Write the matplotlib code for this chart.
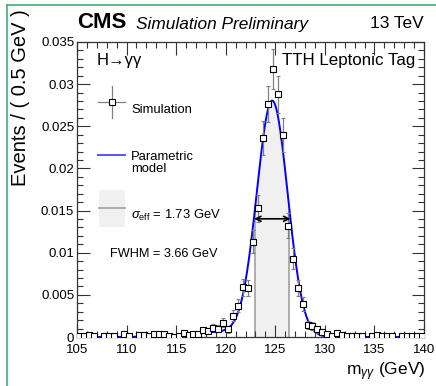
import numpy as np
import matplotlib.pyplot as plt
from matplotlib.lines import Line2D
from matplotlib.patches import Rectangle
from matplotlib.ticker import MultipleLocator

plt.rcParams['font.family'] = ['Liberation Sans', 'DejaVu Sans']
plt.rcParams['mathtext.fontset'] = 'custom'
plt.rcParams['mathtext.rm'] = 'Liberation Sans'
plt.rcParams['mathtext.it'] = 'Liberation Sans:italic'

W, H = 436, 386

# binned simulation, 0.5 GeV bins from 105 to 140 (nan = empty bin)
bin_lo, bin_hi, bin_w = 105.0, 140.0, 0.5
events = [0.0001, 0.0001, 0.0002, 0.0001, np.nan, 0.0001, 0.0001, 0.0001, np.nan, 0.0004,
          0.0001, np.nan, 0.0002, 0.0002, 0.0001, 0.0003, 0.0003, 0.0003, 0.0001, 0.00005,
          0.0001, 0.0005, 0.0002, 0.0003, 0.0003, 0.0008, 0.0007, 0.0011, 0.0010, 0.0017,
          0.0009, 0.0025, 0.0037, 0.0059, 0.0058, 0.0113, 0.0153, 0.0236, 0.0276, 0.0318,
          0.0288, 0.0240, 0.0132, 0.0093, 0.0058, 0.0039, 0.0014, 0.0013, 0.0009, 0.0006,
          0.0004, 0.0001, 0.0005, 0.0002, 0.0001, 0.0001, 0.0001, 0.0001, np.nan, 0.0001,
          0.0002, 0.0001, 0.0001, 0.0001, np.nan, 0.0001, 0.0001, 0.0001, 0.0001, 0.0001]
errors = [0.00013, 0.00013, 0.00018, 0.00013, 0.0, 0.00013, 0.00013, 0.00013, 0.0, 0.00026,
          0.00013, 0.0, 0.00018, 0.00018, 0.00013, 0.00022, 0.00022, 0.00022, 0.00013, 0.00009,
          0.00013, 0.00029, 0.00018, 0.00022, 0.00022, 0.00036, 0.00034, 0.00043, 0.00041, 0.00053,
          0.00039, 0.00065, 0.00078, 0.00099, 0.00098, 0.00137, 0.00160, 0.00198, 0.00214, 0.00240,
          0.00219, 0.00200, 0.00148, 0.00124, 0.00098, 0.00080, 0.00048, 0.00047, 0.00039, 0.00032,
          0.00026, 0.00013, 0.00029, 0.00018, 0.00013, 0.00013, 0.00013, 0.00013, 0.0, 0.00013,
          0.00018, 0.00013, 0.00013, 0.00013, 0.0, 0.00013, 0.00013, 0.00013, 0.00013, 0.00013]

# parametric signal model: gaussian core + low-mass tail
m_peak = 124.70
fwhm = 3.66
sigma_eff = 1.73
core_amp, core_sigma = 0.0278, 1.554
tail_amp, tail_mean, tail_sigma = 0.0006, 120.0, 3.5

centers = np.arange(bin_lo + bin_w / 2, bin_hi, bin_w)
x = np.linspace(bin_lo, bin_hi, 1400)
model = (core_amp * np.exp(-0.5 * ((x - m_peak) / core_sigma) ** 2)
         + tail_amp * np.exp(-0.5 * ((x - tail_mean) / tail_sigma) ** 2))
peak = model.max()

fig = plt.figure(figsize=(W / 100, H / 100), dpi=100)
ax = fig.add_axes([77 / W, 1 - 337 / H, (424 - 77) / W, (337 - 42) / H])

# sigma_eff band under the model curve
lo, hi = m_peak - sigma_eff, m_peak + sigma_eff
inband = (x >= lo) & (x <= hi)
ax.fill_between(x[inband], 0, model[inband], color='#f0f0f0', lw=0, zorder=0)
for edge in (lo, hi):
    top = np.interp(edge, x, model)
    ax.plot([edge, edge], [0, top], color='#a0a0a0', lw=1.2, zorder=1)

ax.plot(x, model, color='#0000ff', lw=1.4, zorder=3)

ax.errorbar(centers, events, yerr=errors, fmt='s', color='#808080', ecolor='#808080',
            elinewidth=0.9, capsize=1.2, capthick=0.8, markersize=4.6,
            markerfacecolor='white', markeredgecolor='black', markeredgewidth=0.8, zorder=4)

# FWHM arrow at half maximum
ax.annotate('', xy=(m_peak - fwhm / 2, peak / 2), xytext=(m_peak + fwhm / 2, peak / 2),
            arrowprops=dict(arrowstyle='<->', color='black', lw=1.2,
                            shrinkA=0, shrinkB=0, mutation_scale=9), zorder=5)

ax.set_xlim(bin_lo, bin_hi)
ax.set_ylim(0, 0.035)
ax.xaxis.set_major_locator(MultipleLocator(5))
ax.xaxis.set_minor_locator(MultipleLocator(1))
ax.yaxis.set_minor_locator(MultipleLocator(0.001))
ax.set_yticks(np.arange(0, 0.0351, 0.005))
ax.set_yticklabels(['0', '0.005', '0.01', '0.015', '0.02', '0.025', '0.03', '0.035'])
ax.tick_params(which='both', direction='in', top=True, right=True, labelsize=9.5,
               color='#333333', width=0.8)
ax.tick_params(which='major', length=9, pad=2)
ax.tick_params(which='minor', length=4.5)
ax.tick_params(axis='x', which='major', pad=5)
for sp in ax.spines.values():
    sp.set_color('#333333')
    sp.set_linewidth(0.9)

def fx(px):
    return px / W

def fy(py):
    return 1 - py / H

fig.text(fx(425), fy(372), r'm$_{\gamma\gamma}$ (GeV)', ha='right', va='center', fontsize=12.5)
fig.text(fx(20), fy(9), 'Events / ( 0.5 GeV )', rotation=90, ha='center', va='top', fontsize=14.5)

fig.text(fx(77), fy(23), 'CMS', fontsize=16, fontweight='bold', ha='left', va='center')
fig.text(fx(136), fy(24), 'Simulation Preliminary', fontsize=12.4, style='italic', ha='left', va='center')
fig.text(fx(424), fy(24), '13 TeV', fontsize=12.4, ha='right', va='center')

fig.text(fx(97), fy(61), 'H\u2192\u03b3\u03b3', fontsize=12, ha='left', va='center')
fig.text(fx(415), fy(61), 'TTH Leptonic Tag', fontsize=12.2, ha='right', va='center')
fig.text(fx(110), fy(254), 'FWHM = %.2f GeV' % fwhm, fontsize=9.2, ha='left', va='center')

# legend entries
leg_x0, leg_x1, leg_xm = fx(98), fx(125), fx(112)
fig.add_artist(Line2D([leg_xm, leg_xm], [fy(86), fy(118)], color='#808080', lw=0.9))
fig.add_artist(Line2D([leg_x0, leg_x1], [fy(102), fy(102)], color='#808080', lw=0.9))
fig.add_artist(Line2D([leg_xm], [fy(102)], marker='s', markersize=4.6, markerfacecolor='white',
                      markeredgecolor='black', markeredgewidth=0.8))
fig.text(fx(131), fy(110), 'Simulation', fontsize=9.4, ha='left', va='center')

fig.add_artist(Line2D([leg_x0, leg_x1], [fy(155), fy(155)], color='#5555ff', lw=1.4))
fig.text(fx(131), fy(163), 'Parametric\nmodel', fontsize=9.4, ha='left', va='center',
         linespacing=1.0)

fig.add_artist(Rectangle((fx(99), fy(227)), fx(125) - fx(99), fy(190) - fy(227),
                         facecolor='#f0f0f0', edgecolor='none'))
fig.add_artist(Line2D([fx(99), fx(125)], [fy(208), fy(208)], color='#a0a0a0', lw=1.2))
fig.text(fx(131), fy(215), r'$\sigma_{\rm eff}$ = %.2f GeV' % sigma_eff, fontsize=9.4,
         ha='left', va='center')

# outer frame lines
fig.add_artist(Line2D([fx(7), fx(7)], [fy(5), 0], color='#3cb371', lw=1.2))
fig.add_artist(Line2D([fx(7), 1], [fy(5), fy(5)], color='#3cb371', lw=1.2))

fig.savefig('out.png', dpi=100)
